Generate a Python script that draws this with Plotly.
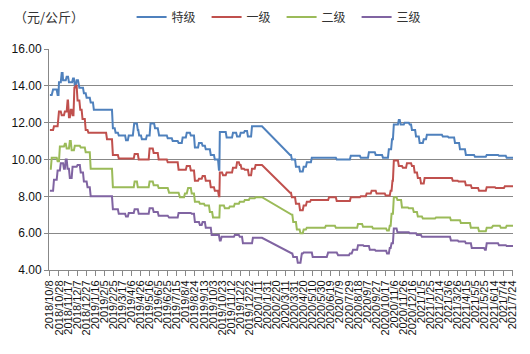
import pandas as pd
import plotly.graph_objects as go

START = pd.Timestamp("2018-10-08")

# Price plateaus: (first day, last day, price) with days counted from 2018-10-08
TEJI = [(0,4,13.5),(7,15,13.8),(17,19,13.5),(20,24,14.2),(26,28,14.7),(29,35,14.3),(37,40,14.5),
        (42,49,14.2),(51,53,14.4),(55,57,14.0),(59,62,14.3),(65,73,13.9),(75,79,13.6),(81,88,13.35),
        (90,95,13.1),(97,137,12.7),(139,143,11.7),(145,150,11.45),(152,166,11.3),(168,172,11.05),
        (174,183,11.3),(186,192,11.95),(194,195,11.6),(197,201,11.3),(203,212,11.1),(214,220,11.3),
        (222,230,11.95),(232,238,11.7),(241,258,11.3),(260,269,11.15),(271,282,11.0),(284,291,10.9),
        (293,300,11.2),(302,309,11.45),(311,318,11.3),(320,327,10.65),(329,335,10.9),(337,342,10.75),
        (344,353,10.55),(355,362,10.25),(364,371,10.0),(373,374,9.45),(375,388,11.5),(390,402,11.2),
        (404,411,11.45),(413,419,11.25),(421,428,11.45),(430,435,11.55),(437,444,11.25),(446,468,11.8),
        (530,532,10.25),(534,541,10.0),(543,550,9.6),(552,558,9.35),(560,565,9.6),(567,576,9.85),
        (578,631,10.1),(633,662,10.0),(664,684,10.2),(686,702,10.1),(704,717,10.4),(719,733,10.25),
        (735,746,10.1),(748,753,10.55),(755,757,11.1),(759,768,11.9),(770,772,12.15),(774,781,11.9),
        (783,792,12.0),(794,797,11.9),(799,806,11.6),(808,814,11.25),(816,823,10.9),(825,830,11.1),
        (832,865,11.35),(867,878,11.25),(880,892,11.2),(894,903,10.9),(905,916,10.55),(918,936,10.25),
        (938,962,10.15),(964,989,10.25),(991,1006,10.2),(1008,1022,10.1)]

YIJI = [(0,7,11.6),(9,17,11.8),(20,24,12.6),(26,31,12.4),(33,37,12.6),(39,40,13.2),(42,44,12.3),
        (46,48,12.7),(50,52,12.4),(54,55,13.9),(57,59,14.0),(61,65,13.2),(67,70,12.7),(72,77,12.2),
        (79,83,11.6),(85,124,11.45),(126,137,11.1),(139,150,10.25),(152,185,10.05),(187,194,10.3),
        (196,218,10.0),(220,227,10.6),(229,238,10.35),(240,258,10.0),(260,282,9.85),(284,300,9.45),
        (302,309,9.65),(311,318,9.4),(320,327,8.85),(329,335,8.95),(337,342,9.1),(344,353,8.85),
        (355,362,8.5),(364,371,8.3),(373,374,8.0),(375,380,9.3),(382,388,9.15),(390,402,9.3),
        (404,411,9.55),(413,417,9.85),(419,421,9.7),(423,428,9.5),(430,437,9.45),(439,444,9.15),
        (446,452,9.5),(454,468,9.7),(530,532,8.2),(534,541,7.95),(543,550,7.6),(552,558,7.25),
        (560,565,7.5),(567,574,7.7),(576,614,7.8),(616,631,7.95),(633,662,7.75),(664,684,7.95),
        (686,697,8.0),(699,708,8.15),(710,719,8.3),(721,739,8.15),(741,750,8.05),(752,754,8.3),
        (756,757,8.85),(759,768,9.95),(770,777,9.65),(779,786,9.55),(788,797,9.8),(799,803,9.65),
        (805,810,9.3),(812,817,9.0),(819,825,8.7),(827,887,9.0),(889,900,8.85),(902,916,8.8),
        (918,929,8.6),(931,945,8.45),(947,962,8.3),(964,982,8.5),(984,1002,8.45),(1004,1022,8.55)]

ERJI = [(0,2,9.5),(4,15,10.1),(17,20,9.9),(22,31,10.7),(33,35,10.85),(37,42,10.6),(44,46,11.0),
        (48,53,10.5),(55,66,10.75),(68,77,10.65),(79,88,10.4),(90,137,9.5),(139,185,8.5),(187,192,8.8),
        (194,218,8.5),(220,227,8.8),(229,238,8.6),(240,260,8.45),(263,284,8.2),(287,296,7.95),
        (298,302,8.15),(305,311,8.45),(313,318,8.15),(320,329,7.7),(331,340,7.6),(342,351,7.5),
        (353,358,7.15),(360,374,6.85),(375,384,7.5),(386,395,7.35),(397,406,7.45),(408,417,7.6),
        (419,428,7.7),(430,439,7.8),(441,452,7.9),(454,468,7.95),(534,535,7.0),(537,543,6.6),
        (545,551,6.2),(553,558,6.0),(560,565,6.2),(567,607,6.3),(609,629,6.4),(631,678,6.3),
        (680,689,6.5),(691,711,6.35),(713,742,6.25),(744,748,6.15),(750,752,6.4),(754,757,7.05),
        (759,765,7.95),(767,775,7.8),(777,790,7.4),(792,801,7.35),(803,810,7.15),(812,821,6.9),
        (823,850,6.8),(852,883,6.85),(885,905,6.7),(907,927,6.55),(929,945,6.3),(947,962,6.1),
        (964,975,6.3),(978,993,6.4),(995,1006,6.3),(1008,1022,6.4)]

SANJI = [(0,7,8.3),(9,15,8.9),(17,22,9.4),(24,29,9.8),(31,33,9.5),(35,37,10.0),(39,42,9.5),
         (44,48,9.0),(50,59,9.6),(61,66,9.7),(68,73,9.3),(75,81,8.8),(83,88,8.5),(90,137,8.0),
         (139,150,7.3),(152,166,7.05),(168,172,6.9),(174,185,7.1),(187,194,7.3),(196,218,7.05),
         (220,227,7.35),(229,238,7.15),(240,260,6.95),(263,282,6.85),(284,311,7.1),(313,318,7.05),
         (320,329,6.6),(331,335,6.45),(337,342,6.6),(344,355,6.3),(357,373,5.9),(375,377,5.6),
         (379,406,5.8),(408,417,5.9),(419,424,5.8),(426,446,5.45),(448,468,5.75),(534,535,4.9),
         (537,545,4.7),(547,553,4.4),(556,558,4.9),(560,578,4.95),(580,611,4.7),(614,633,4.95),
         (636,660,4.8),(662,666,4.9),(669,678,5.1),(680,691,5.35),(693,704,5.3),(706,717,5.1),
         (719,742,5.05),(744,748,4.9),(750,752,5.2),(754,757,5.45),(759,765,6.25),(767,792,6.05),
         (794,808,6.0),(810,819,5.9),(821,883,5.8),(885,900,5.6),(902,916,5.55),(918,929,5.45),
         (931,958,5.2),(960,962,5.1),(964,989,5.45),(991,1006,5.35),(1008,1022,5.3)]

SERIES = [("特级", TEJI, "#4F81BD"), ("一级", YIJI, "#C0504D"),
          ("二级", ERJI, "#9BBB59"), ("三级", SANJI, "#8064A2")]

TICK_DATES = pd.date_range("2018-10-08", "2021-07-24", freq="20D")
TICK_TEXT = [f"{d.year}/{d.month}/{d.day}" for d in TICK_DATES]

fig = go.Figure()
for name, plateaus, color in SERIES:
    xs, ys = [], []
    for s, e, v in plateaus:
        xs += [START + pd.Timedelta(days=s), START + pd.Timedelta(days=e)]
        ys += [v, v]
    fig.add_trace(go.Scatter(x=xs, y=ys, mode="lines", name=name,
                             line=dict(color=color, width=2)))

fig.update_layout(
    width=530, height=354,
    margin=dict(l=49, r=17, t=49, b=84, autoexpand=False),
    paper_bgcolor="white", plot_bgcolor="white",
    font=dict(family="Liberation Sans, Noto Sans CJK SC", size=12, color="#222"),
    showlegend=True,
    legend=dict(orientation="h", x=0.178, xanchor="left",
                yref="container", y=1 - 17 / 354, yanchor="middle",
                font=dict(family="Noto Sans CJK SC", size=12, color="#333"),
                entrywidth=30, itemwidth=30, tracegroupgap=0),
    annotations=[dict(text="（元/公斤）", xref="paper", yref="paper", x=-0.08, y=1.145,
                      xanchor="left", yanchor="middle", showarrow=False,
                      font=dict(family="Noto Sans CJK SC", size=13, color="#333"))],
)
fig.update_xaxes(
    type="date",
    range=[START - pd.Timedelta(days=2), START + pd.Timedelta(days=1022)],
    tickmode="array", tickvals=TICK_DATES, ticktext=TICK_TEXT, tickangle=-90,
    tickfont=dict(size=11, color="#111"),
    ticks="outside", ticklen=5, tickcolor="#888",
    showline=True, linecolor="#888", linewidth=1,
    showgrid=False, zeroline=False,
)
fig.update_yaxes(
    range=[4, 16], dtick=2, tickformat=".2f",
    tickfont=dict(size=12, color="#111"),
    ticks="outside", ticklen=4, tickcolor="#888",
    showline=True, linecolor="#888", linewidth=1,
    showgrid=True, gridcolor="#888", gridwidth=1, zeroline=False,
)
fig.write_html("out.html")
